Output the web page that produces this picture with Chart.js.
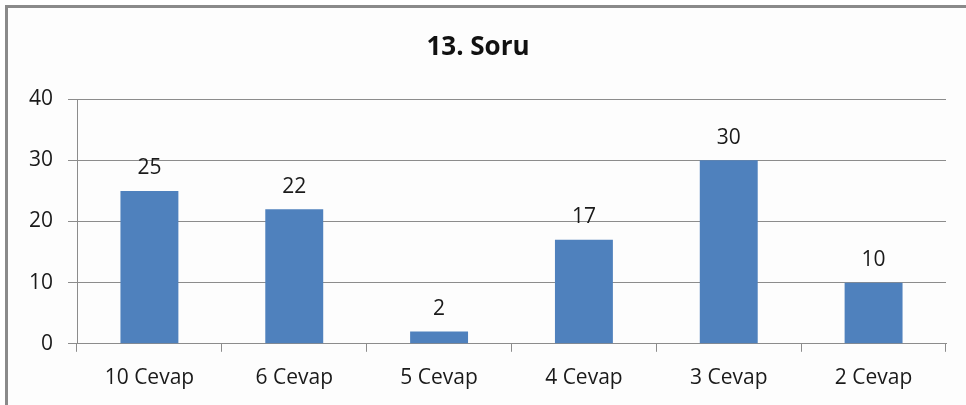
<!DOCTYPE html>
<html>
<head>
<meta charset="utf-8">
<script src="https://cdn.jsdelivr.net/npm/chart.js@4/dist/chart.umd.min.js"></script>
<style>
  body { margin: 0; background: #fff; }
  #wrap { position: relative; width: 966px; height: 405px; overflow: hidden; background: #fff; }
  #frame { position: absolute; left: 5px; top: 5px; width: 980px; height: 420px;
           border-top: 3px solid #8a8a8a; border-left: 3px solid #8a8a8a; background: #fdfdfd; }
  #soru { position: absolute; left: 0; top: 0; }
</style>
</head>
<body>
<div id="wrap">
  <div id="frame"></div>
  <canvas id="soru" width="966" height="405"></canvas>
</div>
<script>
var categories = ['10 Cevap', '6 Cevap', '5 Cevap', '4 Cevap', '3 Cevap', '2 Cevap'];
var counts = [25, 22, 2, 17, 30, 10];
var yTicks = [0, 10, 20, 30, 40];

var FONT = "'Open Sans', 'DejaVu Sans', sans-serif";

// values over the bars
var barLabels = {
  id: 'barLabels',
  afterDatasetsDraw: function(chart) {
    var c = chart.ctx;
    var meta = chart.getDatasetMeta(0);
    c.save();
    c.font = '21px ' + FONT;
    c.fillStyle = '#1a1a1a';
    c.textAlign = 'center';
    c.textBaseline = 'bottom';
    meta.data.forEach(function(bar, i) {
      c.fillText(counts[i], bar.x, bar.y - 12);
    });
    c.restore();
  }
};

window.onload = function() {
  var ctx = document.getElementById('soru');
  new Chart(ctx, {
    type: 'bar',
    data: {
      labels: categories,
      datasets: [{
        label: '13. Soru',
        data: counts,
        backgroundColor: '#4f81bd',
        barPercentage: 0.4,
        categoryPercentage: 1.0
      }]
    },
    options: {
      responsive: false,
      animation: false,
      layout: { padding: { top: 8, left: 10, right: 20, bottom: 0 } },
      plugins: {
        legend: { display: false },
        tooltip: { enabled: false },
        title: {
          display: true,
          text: '13. Soru',
          color: '#111',
          font: { family: FONT, size: 26, weight: 'bold' },
          padding: { top: 24, bottom: 36 }
        }
      },
      scales: {
        x: {
          border: { color: '#8c8c8c', width: 1 },
          grid: { offset: true, drawOnChartArea: false, drawTicks: true, tickLength: 8, color: '#8c8c8c' },
          ticks: { color: '#1a1a1a', font: { family: FONT, size: 21 }, padding: 14, maxRotation: 0 }
        },
        y: {
          min: 0,
          max: 40,
          afterBuildTicks: function(axis) {
            axis.ticks = yTicks.map(function(v) { return { value: v }; });
          },
          afterFit: function(axis) { axis.width = 67; },
          border: { color: '#8c8c8c', width: 1 },
          grid: { color: '#8c8c8c', tickLength: 9 },
          ticks: { color: '#1a1a1a', font: { family: FONT, size: 21 }, padding: 15 }
        }
      }
    },
    plugins: [barLabels]
  });
};
</script>
</body>
</html>
